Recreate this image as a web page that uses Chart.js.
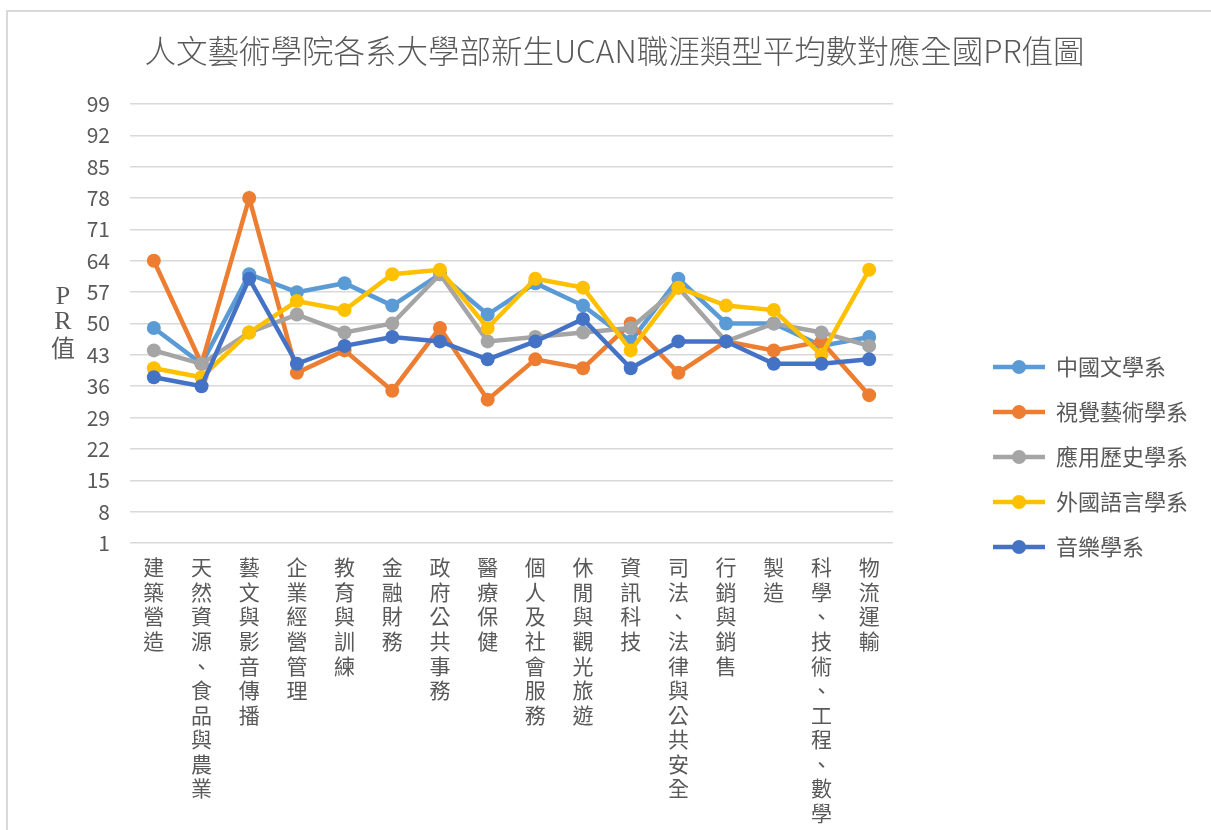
<!DOCTYPE html>
<html><head><meta charset="utf-8">
<script src="https://cdn.jsdelivr.net/npm/chart.js@4/dist/chart.umd.min.js"></script>
<style>
html,body{margin:0;padding:0;background:#fff;overflow:hidden;}
#frame{position:absolute;left:6px;top:10px;width:1400px;height:1000px;border:2px solid #D9D9D9;box-sizing:border-box;}
#wrap{position:absolute;left:0;top:0;width:1211px;height:830px;}
</style></head><body>
<div id="frame"></div>
<div id="wrap"><canvas id="c" width="1211" height="830"></canvas></div>
<script>
const titleText = '人文藝術學院各系大學部新生UCAN職涯類型平均數對應全國PR值圖';
const categories = ['建築營造','天然資源、食品與農業','藝文與影音傳播','企業經營管理','教育與訓練','金融財務','政府公共事務','醫療保健','個人及社會服務','休閒與觀光旅遊','資訊科技','司法、法律與公共安全','行銷與銷售','製造','科學、技術、工程、數學','物流運輸'];
const seriesNames = ['中國文學系','視覺藝術學系','應用歷史學系','外國語言學系','音樂學系'];
const chinese  = [49,41,61,57,59,54,61,52,59,54,46,60,50,50,45,47];
const visual   = [64,41,78,39,44,35,49,33,42,40,50,39,46,44,46,34];
const history  = [44,41,48,52,48,50,61,46,47,48,49,58,46,50,48,45];
const foreign  = [40,38,48,55,53,61,62,49,60,58,44,58,54,53,43,62];
const music    = [38,36,60,41,45,47,46,42,46,51,40,46,46,41,41,42];
const yMin = 1, yMax = 99, yStep = 7;
const yAxisTitle = ['P','R','值'];

const seriesValues = [chinese, visual, history, foreign, music];
const colors = ['#5B9BD5','#ED7D31','#A5A5A5','#FFC000','#4472C4'];
const FONT = "'Noto Sans CJK TC','Noto Sans',sans-serif";
const TEXT = '#595959';

function legendIcon(color){
  const c = document.createElement('canvas');
  c.width = 52; c.height = 16;
  const g = c.getContext('2d');
  g.strokeStyle = color; g.lineWidth = 4.5;
  g.beginPath(); g.moveTo(0,8); g.lineTo(52,8); g.stroke();
  g.fillStyle = color;
  g.beginPath(); g.arc(26,8,7,0,Math.PI*2); g.fill();
  return c;
}

const layoutTweak = {
  id:'layoutTweak',
  afterLayout(chart){
    const lg = chart.legend;
    if (lg) { lg.left += 77; lg.right += 77; lg.top += 42; lg.bottom += 42; }
    const tb = chart.titleBlock;
    if (tb) { tb.left += 14; tb.right += 14; }
  },
  afterDraw(chart){
    const g = chart.ctx;
    g.save();
    g.fillStyle = TEXT;
    g.textAlign = 'center';
    g.textBaseline = 'middle';
    const ys = [297, 322, 348];
    yAxisTitle.forEach((t,i)=>{
      g.font = (i<2 ? "26px 'Liberation Serif',serif" : "24px 'Noto Sans CJK TC',sans-serif");
      g.fillText(t, 63, ys[i]);
    });
    g.restore();
  }
};

new Chart(document.getElementById('c'), {
  type:'line',
  data:{
    labels: categories.map(s=>s.split('')),
    datasets: seriesNames.map((n,i)=>({
      label:n, data:seriesValues[i], borderColor:colors[i], backgroundColor:colors[i],
      borderWidth:4.5, pointRadius:7, pointHoverRadius:7, pointBorderWidth:0,
      order:4-i, tension:0, fill:false
    }))
  },
  options:{
    responsive:false, animation:false,
    layout:{padding:{left:80,right:90,top:0,bottom:0}},
    plugins:{
      title:{display:true, text:titleText, color:TEXT, font:{family:FONT,size:31.5,weight:300}, padding:{top:32,bottom:34.2}},
      legend:{position:'right', align:'center',
        labels:{usePointStyle:true, pointStyleWidth:52, padding:23, color:TEXT, font:{family:FONT,size:22},
          generateLabels: chart => chart.data.datasets.map((ds,i)=>({
            text:ds.label, fillStyle:ds.borderColor, strokeStyle:ds.borderColor, lineWidth:0,
            pointStyle:legendIcon(ds.borderColor), hidden:false, datasetIndex:i, fontColor:TEXT
          })),
          sort:(a,b)=>a.datasetIndex-b.datasetIndex
        }
      },
      tooltip:{enabled:false}
    },
    scales:{
      x:{offset:true, clip:false, grid:{display:false, drawTicks:false}, border:{display:false},
        ticks:{autoSkip:false, maxRotation:0, minRotation:0, color:TEXT, font:{family:FONT,size:21,lineHeight:1.17}, padding:12},
        afterFit:s=>{s.height=287;}},
      y:{min:yMin, max:yMax, ticks:{stepSize:yStep, color:TEXT, font:{family:FONT,size:21}, padding:20},
        grid:{color:'#D9D9D9', lineWidth:1.5, drawTicks:false}, border:{display:false},
        afterFit:s=>{s.width=50;}}
    }
  },
  plugins:[layoutTweak]
});
</script>
</body></html>
